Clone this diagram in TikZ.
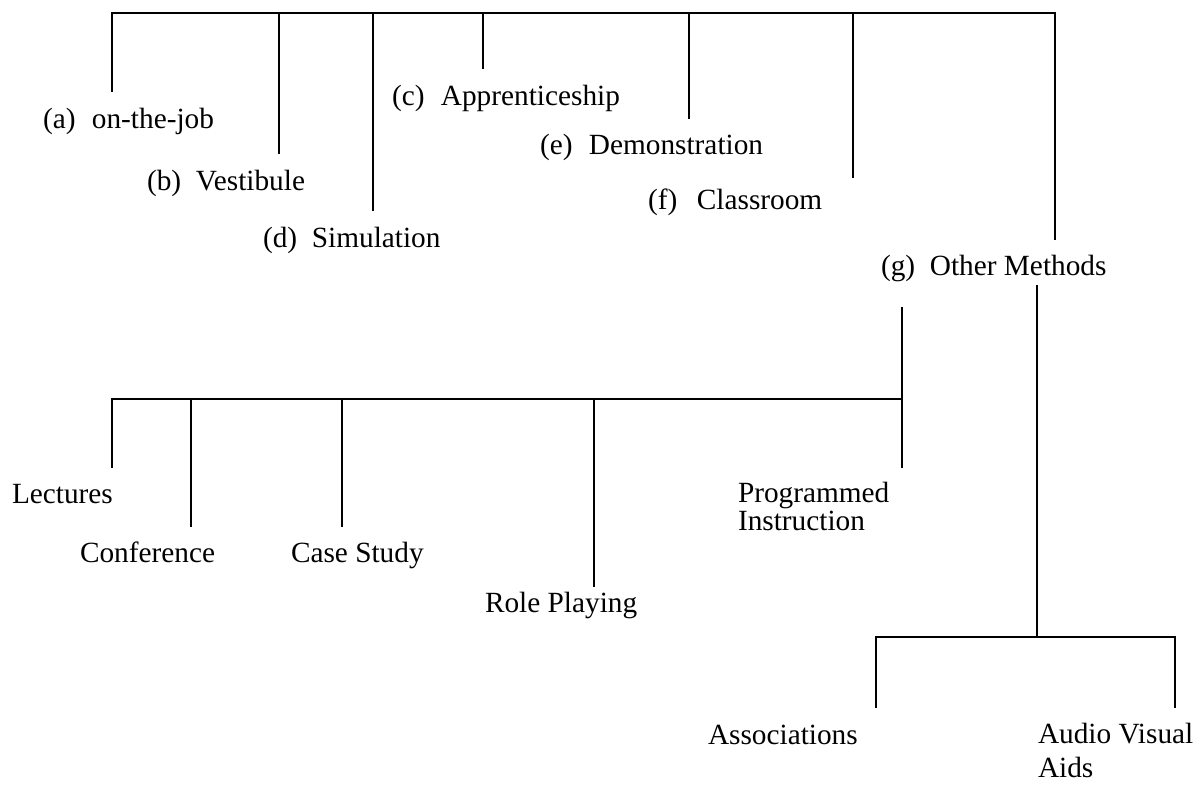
\documentclass[tikz,border=0pt]{standalone}
\usepackage{fontspec}
\setmainfont{Liberation Serif}
\newcommand\lbx[1]{\makebox[1.67em][l]{(#1)}}
\begin{document}
\begin{tikzpicture}[x=0.5pt,y=-0.5pt,
  lbl/.style={anchor=base west, inner sep=0pt, outer sep=0pt, font=\fontsize{14.65}{14}\selectfont},
  conn/.style={draw=black, line width=1pt}]
\useasboundingbox (0,0) rectangle (1200,785);

% ---------- labels, first level ----------
\node[lbl] (a) at (43,129) {\lbx{a}on-the-job};
\node[lbl] (b) at (147,191) {\lbx{b}Vestibule};
\node[lbl] (c) at (392,106) {\lbx{c}Apprenticeship};
\node[lbl] (d) at (263,248) {\lbx{d}Simulation};
\node[lbl] (e) at (540,155) {\lbx{e}Demonstration};
\node[lbl] (f) at (648,210) {\lbx{f}Classroom};
\node[lbl] (g) at (881,276) {\lbx{g}Other Methods};

% ---------- labels, second level ----------
\node[lbl] (lec) at (12,504) {Lectures};
\node[lbl] (conf) at (80,563) {Conference};
\node[lbl] (case) at (291,563) {Case Study};
\node[lbl] (role) at (485,613) {Role Playing};
\node[lbl] (prog) at (738,503) {\begin{tabular}[t]{@{}l@{}}Programmed\\Instruction\end{tabular}};
\node[lbl] (assoc) at (708,745) {Associations};
\node[lbl, font=\fontsize{14.65}{17}\selectfont] (av) at (1038,744) {\begin{tabular}[t]{@{}l@{}}Audio Visual\\Aids\end{tabular}};

% ---------- junction coordinates ----------
\coordinate (ta) at (112,13);  \coordinate (ea) at (112,92);
\coordinate (tb) at (279,13);  \coordinate (eb) at (279,154);
\coordinate (td) at (373,13);  \coordinate (ed) at (373,211);
\coordinate (tc) at (483,13);  \coordinate (ec) at (483,69);
\coordinate (te) at (689,13);  \coordinate (ee) at (689,119);
\coordinate (tf) at (853,13);  \coordinate (ef) at (853,178);
\coordinate (tg) at (1055,13); \coordinate (eg) at (1055,240);

\coordinate (gl) at (902,307);  \coordinate (jl) at (902,399); \coordinate (ep) at (902,468);
\coordinate (hl) at (112,399);  \coordinate (el) at (112,468);
\coordinate (hc) at (191,399);  \coordinate (ecf) at (191,527);
\coordinate (hs) at (342,399);  \coordinate (ecs) at (342,527);
\coordinate (hr) at (594,399);  \coordinate (er) at (594,587);

\coordinate (gr) at (1037,285); \coordinate (jr) at (1037,637);
\coordinate (ha) at (876,637);  \coordinate (eas) at (876,708);
\coordinate (hv) at (1175,637); \coordinate (eav) at (1175,708);

% ---------- connectors, first level ----------
\draw[conn] (ea) -- (ta) -- (tg) -- (eg);
\draw[conn] (tb) -- (eb);
\draw[conn] (td) -- (ed);
\draw[conn] (tc) -- (ec);
\draw[conn] (te) -- (ee);
\draw[conn] (tf) -- (ef);

% ---------- connectors, other methods ----------
\draw[conn] (gl) -- (ep);
\draw[conn] (el) -- (hl) -- (jl);
\draw[conn] (hc) -- (ecf);
\draw[conn] (hs) -- (ecs);
\draw[conn] (hr) -- (er);

\draw[conn] (gr) -- (jr);
\draw[conn] (eas) -- (ha) -- (hv) -- (eav);
\end{tikzpicture}
\end{document}
